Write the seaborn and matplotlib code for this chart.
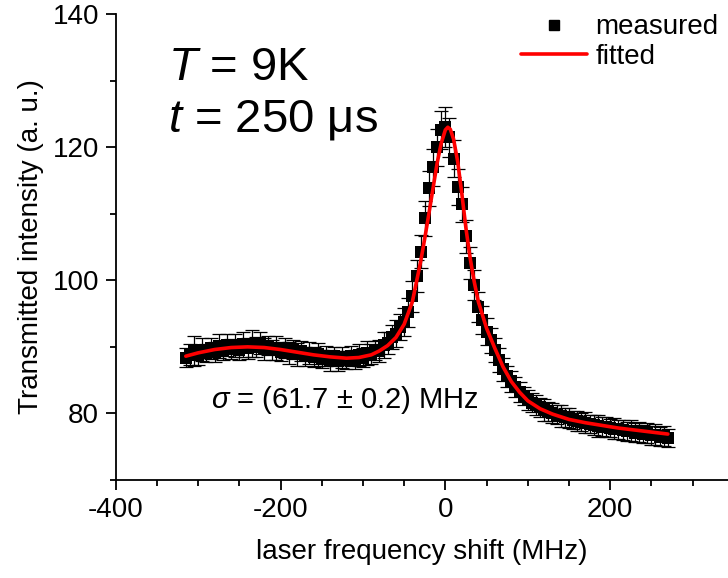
import numpy as np
import matplotlib
matplotlib.use("Agg")
import matplotlib.pyplot as plt
from matplotlib.lines import Line2D
from matplotlib.ticker import MultipleLocator
import seaborn as sns

# measured transmission (laser frequency shift in MHz, intensity in a.u.)
freq_meas = [
    -315, -310, -305, -300, -295, -290, -285, -280, -275, -270, -265, -260,
    -255, -250, -245, -240, -235, -230, -225, -220, -215, -210, -205, -200,
    -195, -190, -185, -180, -175, -170, -165, -160, -155, -150, -145, -140,
    -135, -130, -125, -120, -115, -110, -105, -100, -95, -90, -85, -80,
    -75, -70, -65, -60, -55, -50, -45, -40, -35, -30, -25, -20,
    -15, -10, -5, 0, 5, 10, 15, 20, 25, 30, 35, 40,
    45, 50, 55, 60, 65, 70, 75, 80, 85, 90, 95, 100,
    105, 110, 115, 120, 125, 130, 135, 140, 145, 150, 155, 160,
    165, 170, 175, 180, 185, 190, 195, 200, 205, 210, 215, 220,
    225, 230, 235, 240, 245, 250, 255, 260, 265, 270,
]
int_meas = [
    88.4, 88.9, 89.4, 88.8, 89.6, 89.1, 89.8, 89.3, 90.1, 89.5, 90.3, 89.7,
    90.2, 89.6, 90.4, 89.8, 90.5, 90.0, 90.6, 89.7, 90.2, 89.5, 89.9, 89.3,
    89.8, 89.1, 89.6, 88.9, 89.4, 88.6, 89.1, 88.5, 88.9, 88.2, 88.7, 88.0,
    88.6, 87.9, 88.4, 88.0, 88.6, 88.1, 88.8, 88.4, 89.1, 88.9, 89.5, 89.4,
    90.3, 90.6, 91.5, 92.0, 93.0, 93.7, 95.2, 97.6, 100.6, 104.3, 109.3, 113.8,
    117.0, 120.0, 122.6, 123.0, 121.5, 118.3, 114.0, 111.4, 106.6, 102.6, 99.3, 96.0,
    94.0, 92.3, 91.0, 89.6, 88.0, 86.6, 85.6, 84.8, 83.9, 83.2, 82.6, 82.0,
    81.6, 81.2, 80.9, 80.5, 80.3, 80.1, 79.8, 79.6, 79.4, 79.3, 79.0, 78.9,
    78.7, 78.6, 78.4, 78.3, 78.1, 78.0, 77.9, 77.8, 77.7, 77.6, 77.5, 77.3,
    77.4, 77.1, 77.2, 76.9, 77.0, 76.7, 76.8, 76.5, 76.6, 76.3,
]
err_meas = [
    1.4, 1.6, 2.2, 1.5, 1.7, 1.4, 1.6, 1.5, 1.8, 1.4, 1.6, 1.5,
    1.7, 1.5, 1.9, 1.6, 2.0, 1.5, 1.7, 1.6, 1.4, 1.5, 1.8, 1.4,
    1.5, 1.6, 1.4, 1.7, 1.5, 1.4, 1.6, 1.5, 1.7, 1.4, 1.5, 1.6,
    1.4, 1.5, 1.6, 1.4, 1.5, 1.4, 1.6, 1.5, 1.8, 1.5, 1.4, 1.6,
    1.9, 1.7, 1.8, 2.0, 2.0, 2.1, 2.2, 2.3, 2.4, 2.5, 2.6, 2.7,
    2.8, 2.8, 2.9, 3.0, 2.9, 2.8, 2.7, 2.6, 2.5, 2.4, 2.3, 2.2,
    2.1, 2.0, 1.9, 1.8, 1.8, 1.7, 1.6, 1.6, 1.5, 1.5, 1.4, 1.5,
    1.4, 1.5, 1.4, 1.6, 1.4, 1.5, 1.4, 1.6, 1.4, 1.5, 1.4, 1.5,
    1.4, 1.6, 1.4, 1.5, 1.7, 1.4, 1.5, 1.4, 1.6, 1.4, 1.5, 1.4,
    1.6, 1.4, 1.5, 1.4, 1.5, 1.4, 1.6, 1.4, 1.5, 1.4,
]

# fitted curve
freq_fit = [
    -315, -300, -280, -260, -240, -220, -200, -180, -160, -140, -120, -105,
    -90, -80, -70, -60, -50, -40, -30, -25, -20, -15, -10, -5,
    0, 3, 6, 10, 15, 20, 25, 30, 35, 40, 50, 60,
    70, 80, 90, 100, 115, 130, 150, 170, 190, 210, 230, 250, 270,
]
int_fit = [
    88.6, 89.1, 89.6, 89.9, 90.0, 89.9, 89.6, 89.2, 88.8, 88.5, 88.3, 88.4,
    88.8, 89.4, 90.2, 91.4, 93.4, 96.8, 102.8, 106.3, 110.0, 113.8, 117.6, 120.6,
    122.6, 123.0, 122.7, 121.2, 117.8, 113.0, 107.8, 103.4, 99.8, 96.8, 92.8, 89.8,
    87.0, 84.8, 83.2, 81.9, 80.7, 79.9, 79.1, 78.6, 78.2, 77.8, 77.5, 77.2, 76.9,
]

x_ticks = [-400, -200, 0, 200]
y_ticks = [80, 100, 120, 140]

sns.set_theme(style="ticks")
plt.rcParams["font.family"] = ["Liberation Sans", "DejaVu Sans"]
plt.rcParams["axes.unicode_minus"] = False
plt.rcParams["mathtext.fontset"] = "custom"
plt.rcParams["mathtext.it"] = "Liberation Sans:italic"
plt.rcParams["mathtext.rm"] = "Liberation Sans"
plt.rcParams["text.color"] = "black"
plt.rcParams["axes.labelcolor"] = "black"

fig = plt.figure(figsize=(7.28, 5.78), dpi=100)
ax = fig.add_axes([0.159, 0.1696, 0.841, 0.806])

ax.errorbar(freq_meas, int_meas, yerr=err_meas, fmt="none", ecolor="black",
            elinewidth=0.9, capsize=5, capthick=0.9, zorder=2)
sns.scatterplot(x=freq_meas, y=int_meas, marker="s", s=68, color="black",
                edgecolor="black", linewidth=0, ax=ax, zorder=3)
sns.lineplot(x=freq_fit, y=int_fit, color="#ff0000", linewidth=2.6, ax=ax,
             sort=False, zorder=4)

ax.set_xlim(-400, 343)
ax.set_ylim(70, 140)
ax.set_xticks(x_ticks)
ax.set_yticks(y_ticks)
ax.xaxis.set_minor_locator(MultipleLocator(50))
ax.yaxis.set_minor_locator(MultipleLocator(10))
ax.tick_params(which="major", direction="out", length=7, width=1.3,
               labelsize=20, color="black", labelcolor="black", pad=5)
ax.tick_params(which="minor", direction="out", length=4, width=1.3, color="black")
for side in ["top", "right"]:
    ax.spines[side].set_visible(False)
for side in ["left", "bottom"]:
    ax.spines[side].set_linewidth(1.3)
    ax.spines[side].set_color("black")

ax.set_xlabel("laser frequency shift (MHz)", fontsize=20, labelpad=12)
ax.set_ylabel("Transmitted intensity (a. u.)", fontsize=20, labelpad=6)

ax.text(0.085, 0.884, r"$T$ = 9K", transform=ax.transAxes, fontsize=34,
        va="center", ha="left")
ax.text(0.085, 0.773, r"$t$ = 250 μs", transform=ax.transAxes, fontsize=34,
        va="center", ha="left")
ax.text(0.155, 0.172, r"$\sigma$ = (61.7 ± 0.2) MHz", transform=ax.transAxes,
        fontsize=21, va="center", ha="left")

handles = [
    Line2D([], [], marker="s", linestyle="none", color="black", markersize=7),
    Line2D([], [], color="#ff0000", linewidth=2.6),
]
ax.legend(handles, ["measured", "fitted"], loc="upper right",
          bbox_to_anchor=(1.012, 1.035), frameon=False, fontsize=20,
          handlelength=2.4, handletextpad=0.3, labelspacing=0.12,
          borderaxespad=0.2)

fig.savefig("out.png", dpi=100)
